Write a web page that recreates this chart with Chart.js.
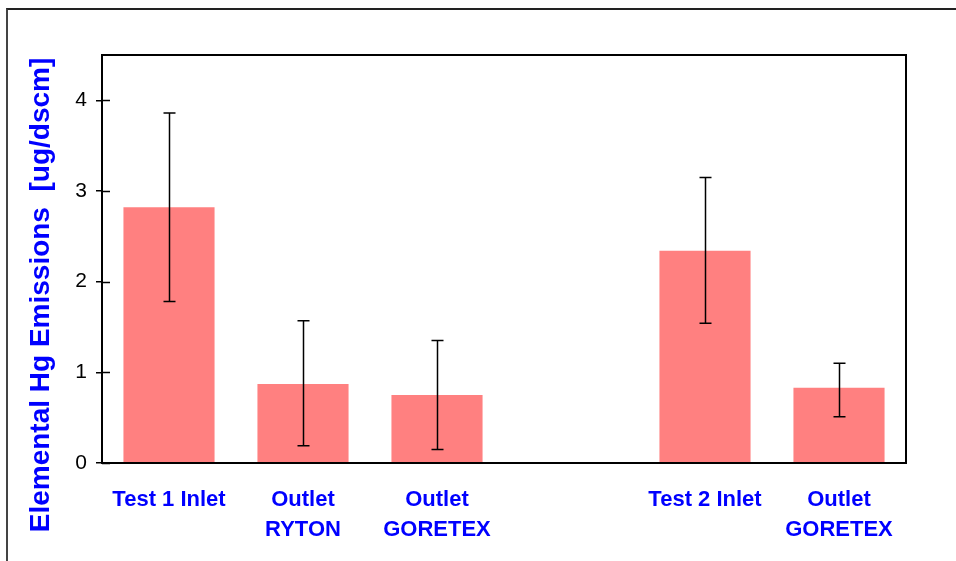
<!DOCTYPE html>
<html>
<head>
<meta charset="utf-8">
<script src="https://cdn.jsdelivr.net/npm/chart.js@4/dist/chart.umd.min.js"></script>
<style>
  html, body { margin: 0; padding: 0; background: #fff; }
  #wrap { position: relative; width: 956px; height: 561px; }
  #frame { position: absolute; left: 6px; top: 8px; right: 0; bottom: 0;
           border-top: 2px solid #222; border-left: 2px solid #444; pointer-events: none; }
  canvas { position: absolute; left: 0; top: 0; }
</style>
</head>
<body>
<div id="wrap">
  <canvas id="chart" width="956" height="561"></canvas>
  <div id="frame"></div>
</div>
<script>
// Data
const categories = ["Test 1 Inlet", ["Outlet", "RYTON"], ["Outlet", "GORETEX"], "", "Test 2 Inlet", ["Outlet", "GORETEX"]];
const emissions = [2.82, 0.87, 0.75, null, 2.34, 0.83];
const errHigh = [3.86, 1.57, 1.35, null, 3.15, 1.10];
const errLow = [1.78, 0.19, 0.15, null, 1.54, 0.51];
const yTicks = [0, 1, 2, 3, 4];

const yTitle = "Elemental Hg Emissions  [ug/dscm]";

// box round the plot area, ticks crossing the y axis, error bars, y title
const extras = {
  id: "extras",
  afterDatasetsDraw(chart) {
    const { ctx, chartArea: a, scales: { x, y } } = chart;
    ctx.save();
    ctx.strokeStyle = "#000";

    // error bars
    ctx.lineWidth = 1.5;
    emissions.forEach((v, i) => {
      if (v === null) return;
      const cx = Math.round(x.getPixelForValue(i)) + 0.5;
      const top = y.getPixelForValue(errHigh[i]);
      const bot = y.getPixelForValue(errLow[i]);
      ctx.beginPath();
      ctx.moveTo(cx, top); ctx.lineTo(cx, bot);
      ctx.moveTo(cx - 6, top); ctx.lineTo(cx + 6, top);
      ctx.moveTo(cx - 6, bot); ctx.lineTo(cx + 6, bot);
      ctx.stroke();
    });

    // inner part of the y ticks
    yTicks.forEach(t => {
      const py = Math.round(y.getPixelForValue(t)) + 0.5;
      ctx.beginPath();
      ctx.moveTo(a.left, py); ctx.lineTo(a.left + 8, py);
      ctx.stroke();
    });

    // plot box
    ctx.lineWidth = 2;
    ctx.strokeRect(a.left, a.top, a.right - a.left, a.bottom - a.top);

    // y title
    ctx.fillStyle = "#0000ff";
    ctx.font = "bold 28px 'Liberation Sans', Arial, sans-serif";
    ctx.textAlign = "center";
    ctx.textBaseline = "middle";
    ctx.translate(41, 295);
    ctx.rotate(-Math.PI / 2);
    ctx.fillText(yTitle, 0, 0);
    ctx.restore();
  }
};

new Chart(document.getElementById("chart"), {
  type: "bar",
  data: {
    labels: categories,
    datasets: [{
      data: emissions,
      backgroundColor: "#ff8080",
      borderWidth: 0,
      categoryPercentage: 1,
      barPercentage: 0.68
    }]
  },
  options: {
    responsive: false,
    animation: false,
    devicePixelRatio: 1,
    layout: { padding: { top: 55, right: 50, left: 0, bottom: 0 } },
    plugins: { legend: { display: false }, tooltip: { enabled: false } },
    scales: {
      x: {
        afterFit: s => { s.height = 98; },
        grid: { display: false },
        border: { display: false },
        ticks: {
          color: "#0000ff",
          padding: 14,
          maxRotation: 0,
          autoSkip: false,
          font: { family: "'Liberation Sans', Arial, sans-serif", size: 22, weight: "bold", lineHeight: 1.36 }
        }
      },
      y: {
        min: 0,
        max: 4.5,
        afterFit: s => { s.width = 102; },
        afterBuildTicks: s => { s.ticks = yTicks.map(v => ({ value: v })); },
        grid: { drawOnChartArea: false, tickLength: 6, color: "#000", lineWidth: 1.5 },
        border: { display: false },
        ticks: {
          color: "#000",
          padding: 9,
          font: { family: "'Liberation Sans', Arial, sans-serif", size: 21 }
        }
      }
    }
  },
  plugins: [extras]
});
</script>
</body>
</html>
